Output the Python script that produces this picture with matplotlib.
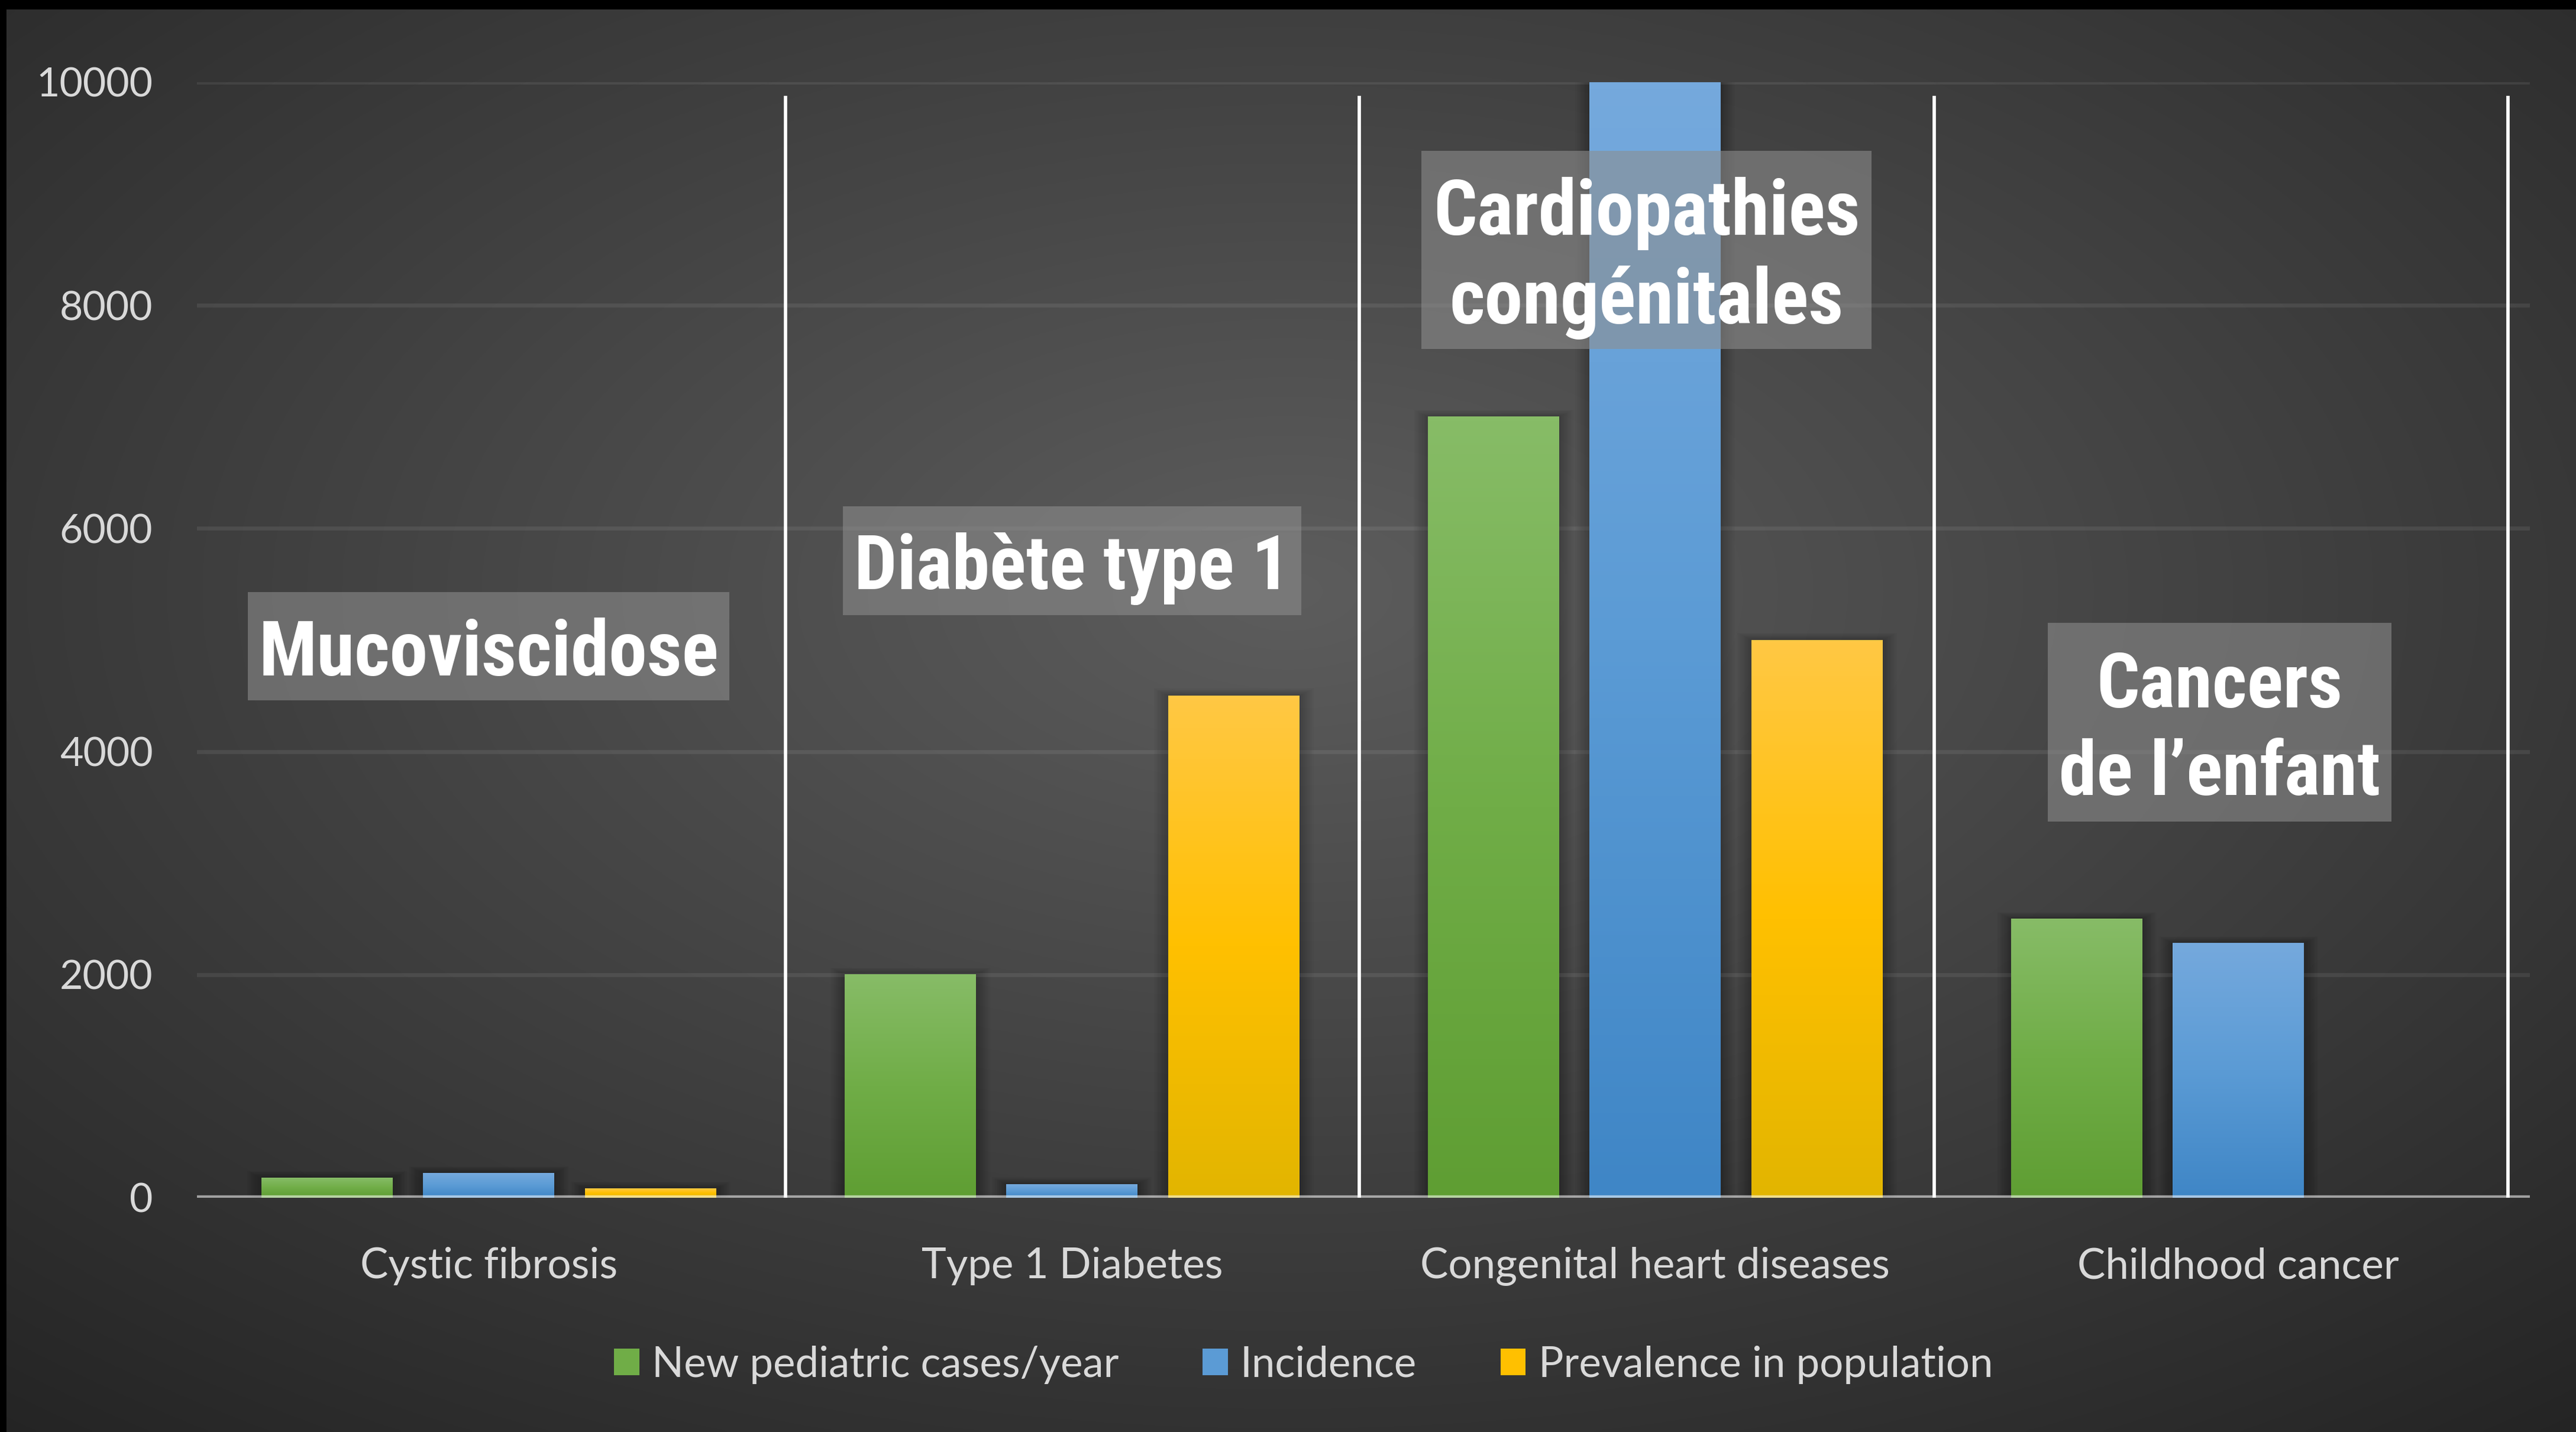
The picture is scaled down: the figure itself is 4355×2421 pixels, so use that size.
import numpy as np
import matplotlib
matplotlib.use("Agg")
import matplotlib.pyplot as plt
from matplotlib.patches import Rectangle, Patch
from matplotlib.colors import LinearSegmentedColormap
from matplotlib import font_manager as fm

# ---------------- data ----------------
categories = ["Cystic fibrosis", "Type 1 Diabetes", "Congenital heart diseases", "Childhood cancer"]
series_names = ["New pediatric cases/year", "Incidence", "Prevalence in population"]
new_cases = [175, 2000, 7000, 2500]
incidence = [220, 120, 10000, 2280]
prevalence = [80, 4500, 5000, 0]
y_ticks = [0, 2000, 4000, 6000, 8000, 10000]

disease_labels = ["Mucoviscidose", "Diabète type 1", "Cardiopathies\ncongénitales", "Cancers\nde l\u2019enfant"]

# ---------------- layout / style ----------------
label_boxes = [(-0.4126, 0.413, 4460, 5431),
               (0.6074, 1.3936, 5225, 6196),
               (1.5993, 2.3714, 7608, 9387),
               (2.673, 3.262, 3373, 5152)]
label_target_px = [778, 736, 722, 544]
separators_x = [0.5088, 1.4922, 2.4785, 3.4619]
separator_top = 9878

grad_stops = [["#87bc67", "#70ad47", "#5f9e33"],
              ["#75a9dd", "#5b9bd5", "#3f86c6"],
              ["#ffc844", "#ffc000", "#e2b500"]]
mid_colors = [s[1] for s in grad_stops]

tick_font = ["Lato", "DejaVu Sans"]
text_color = "#d9d9d9"


def narrow_bold_font():
    files = [f.fname for f in fm.fontManager.ttflist]
    prefs = ["LiberationSansNarrow-Bold.", "ArialNarrow-Bold", "RobotoCondensed-Bold.",
             "NotoSans-CondensedBold", "OpenSans-CondensedBold", "OpenSansCondensed-Bold",
             "DejaVuSansCondensed-Bold.", "Condensed-Bold", "CondensedBold", "Narrow-Bold"]
    for p in prefs:
        for fn in files:
            if p in fn.split("/")[-1]:
                return fm.FontProperties(fname=fn)
    return fm.FontProperties(family=["Roboto", "DejaVu Sans"], weight="bold")


label_fp = narrow_bold_font()

W, H, DPI = 4355, 2421, 100
fig = plt.figure(figsize=(W / DPI, H / DPI), dpi=DPI)

# ---------------- background ----------------
bg = fig.add_axes([0, 0, 1, 1], zorder=-10)
bg.set_axis_off()
h, w = 605, 1089
yy, xx = np.mgrid[0:h, 0:w]
X = (xx + 0.5) / w * W
Y = (yy + 0.5) / h * H
r = np.sqrt(((X - 2177) / 2177) ** 2 + ((Y - 1000) / 1210) ** 2) / np.sqrt(2)
v = np.clip((93 - 52 * r) / 255, 0, 1)
bg.imshow(np.dstack([v, v, v]), extent=[0, 1, 0, 1], aspect="auto",
          origin="upper", interpolation="bilinear")
bg.add_patch(Rectangle((0, 1 - 16 / H), 1, 16 / H, color="black", lw=0))
bg.add_patch(Rectangle((0, 0), 11 / W, 1, color="black", lw=0))
bg.set_xlim(0, 1)
bg.set_ylim(0, 1)

# ---------------- main axes ----------------
left, right = 120 / 1568, 1540 / 1568
bottom, top = 1 - 2025 / H, 1 - 139 / H
ax = fig.add_axes([left, bottom, right - left, top - bottom])
ax.patch.set_alpha(0)
for s in ax.spines.values():
    s.set_visible(False)

x = np.arange(len(categories))
offsets = [-0.2775, 0.0, 0.2775]
bar_w = 0.225
series = [new_cases, incidence, prevalence]

ax.set_xlim(-0.5, 3.5)
ax.set_ylim(0, 10000)

px_per_x = (right - left) * W / 4.0
px_per_y = (top - bottom) * H / 10000.0
grad = np.linspace(0, 1, 256).reshape(-1, 1)

for i, vals in enumerate(series):
    cmap = LinearSegmentedColormap.from_list(f"g{i}", grad_stops[i])
    bars = ax.bar(x + offsets[i], vals, width=bar_w, color=mid_colors[i],
                  linewidth=0, zorder=3)
    for b in bars:
        x0, y0 = b.get_x(), b.get_y()
        bw, bh = b.get_width(), b.get_height()
        if bh <= 0:
            continue
        for k in range(1, 11):
            e = 2.4 * k / px_per_x
            ey = 1.2 * k / px_per_y
            ax.add_patch(Rectangle((x0 - e, y0), bw + 2 * e, min(bh + ey, 10000 - y0),
                                   facecolor="black", alpha=0.022, lw=0, zorder=2))
        ax.imshow(grad, extent=[x0, x0 + bw, y0, y0 + bh], cmap=cmap, aspect="auto",
                  origin="upper", interpolation="bicubic", zorder=3.1)

ax.set_xlim(-0.5, 3.5)
ax.set_ylim(0, 10000)

# grid and zero line
for t in y_ticks[1:]:
    ax.axhline(t, color="white", alpha=0.08, lw=4.8, zorder=1)
ax.axhline(0, color="white", alpha=0.55, lw=6.7, zorder=4)

# separators
ax.vlines(separators_x, 0, separator_top, color="white", lw=4.1, zorder=5)

# ticks
ax.set_yticks(y_ticks)
ax.set_yticklabels([str(t) for t in y_ticks])
ax.set_xticks(x)
ax.set_xticklabels(categories)
ax.tick_params(axis="y", length=0, pad=54, labelsize=49, labelcolor=text_color)
ax.tick_params(axis="x", length=0, pad=60, labelsize=51, labelcolor=text_color)
for lab in ax.get_xticklabels() + ax.get_yticklabels():
    lab.set_family(tick_font)

# annotation boxes
texts = []
for lab, (bx0, bx1, by0, by1) in zip(disease_labels, label_boxes):
    ax.add_patch(Rectangle((bx0, by0), bx1 - bx0, by1 - by0, facecolor="#8e8e8e",
                           alpha=0.58, lw=0, zorder=6))
    t = ax.annotate(lab, xy=((bx0 + bx1) / 2, (by0 + by1) / 2), xytext=(0, -10),
                    textcoords="offset points", ha="center", va="center",
                    fontproperties=label_fp, fontsize=98, color="white",
                    linespacing=1.27, zorder=7)
    texts.append(t)

# legend
handles = [Patch(facecolor=c, edgecolor="none") for c in mid_colors]
fig.legend(handles, series_names, loc="center", bbox_to_anchor=(0.506, 0.047),
           ncol=3, frameon=False, handlelength=0.6, handleheight=0.6,
           handletextpad=0.3, columnspacing=2.0, labelcolor=text_color,
           prop={"family": tick_font, "size": 51})

# fit annotation text widths to the reference widths
fig.canvas.draw()
renderer = fig.canvas.get_renderer()
for t, target in zip(texts, label_target_px):
    wpx = t.get_window_extent(renderer).width
    t.set_fontsize(98 * min(1.15, target / wpx))

fig.savefig("out.png", dpi=DPI)
